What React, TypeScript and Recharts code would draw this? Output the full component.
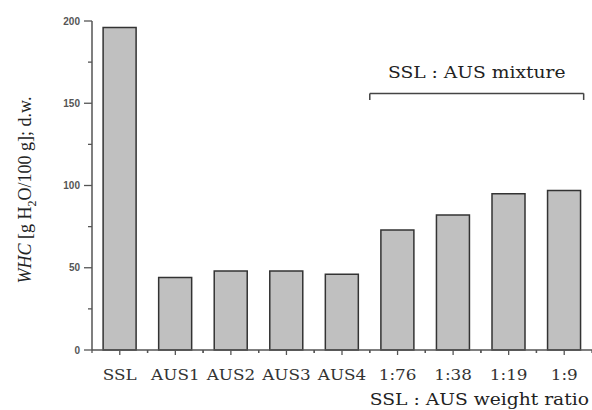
import React from 'react';
import { BarChart, Bar, XAxis, YAxis, ReferenceLine, Label } from 'recharts';

const categories = ['SSL', 'AUS1', 'AUS2', 'AUS3', 'AUS4', '1:76', '1:38', '1:19', '1:9'];
const whcValues = [196, 44, 48, 48, 46, 73, 82, 95, 97];
const yTicks = [0, 25, 50, 75, 100, 125, 150, 175, 200];
const yLabelTicks = [0, 50, 100, 150, 200];
const bracketStart = 5.0;
const bracketEnd = 8.85;
const bracketTop = 156;
const bracketFoot = 152;

const data = categories.map((c, i) => ({ name: c, whc: whcValues[i], pos: i + 0.5 }));

const W = 592;
const H = 410;
const LEFT = 92;
const BAND = (W - LEFT) / categories.length;
const AXIS_COLOR = '#555';
const SERIF = 'DejaVu Serif, serif';

const YTick = (props: any) => {
  const { x, y, payload } = props;
  const axisX = x + 8 + 3;
  const major = yLabelTicks.includes(payload.value);
  return (
    <g>
      <line x1={axisX - (major ? 8 : 4)} x2={axisX} y1={y} y2={y} stroke={AXIS_COLOR} strokeWidth={1.3} />
      {major && (
        <text x={axisX - 12} y={y} dy={3.5} textAnchor="end" fontFamily="Liberation Sans, Arial, sans-serif" fontWeight="bold" fontSize={10} fill="#555">
          {payload.value}
        </text>
      )}
    </g>
  );
};

const XTick = (props: any) => {
  const { x, y, payload } = props;
  const axisY = y - 4 - 2;
  return (
    <g>
      <line x1={x} x2={x} y1={axisY} y2={axisY + 5} stroke={AXIS_COLOR} strokeWidth={1.3} />
      <line x1={x - BAND / 2} x2={x - BAND / 2} y1={axisY} y2={axisY + 3} stroke={AXIS_COLOR} strokeWidth={1.3} />
      <line x1={x + BAND / 2} x2={x + BAND / 2} y1={axisY} y2={axisY + 3} stroke={AXIS_COLOR} strokeWidth={1.3} />
      <text transform={`translate(${x},${axisY + 30}) scale(1.2,1)`} textAnchor="middle" fontFamily={SERIF} fontSize={14} fill="#333">
        {payload.value}
      </text>
    </g>
  );
};

const XTitle = (props: any) => {
  const { viewBox } = props;
  return (
    <text transform={`translate(${viewBox.x + viewBox.width - 3},${viewBox.y + 55}) scale(1.1,1)`} textAnchor="end" fontFamily={SERIF} fontSize={17} fill="#222">
      SSL : AUS weight ratio
    </text>
  );
};

const BracketLabel = (props: any) => {
  const { viewBox } = props;
  const cx = viewBox.x + viewBox.width / 2;
  return (
    <text transform={`translate(${cx},${viewBox.y - 15}) scale(1.1,1)`} textAnchor="middle" fontFamily={SERIF} fontSize={17} fill="#222">
      SSL : AUS mixture
    </text>
  );
};

const YTitle = () => {
  const cx = 31;
  const cy = 190;
  return (
    <text transform={`translate(${cx},${cy}) rotate(-90)`} textAnchor="middle" fontFamily="Liberation Serif, serif" fontSize={18} fill="#222">
      <tspan fontStyle="italic">WHC</tspan>
      <tspan> [g H</tspan>
      <tspan fontSize={12} dy={5}>2</tspan>
      <tspan dy={-5}>O/100 g]; d.w.</tspan>
    </text>
  );
};

export default function App() {
  return (
    <div style={{ position: 'absolute', left: 0, top: 0, width: W, height: H, background: '#fff' }}>
      <BarChart width={W} height={H} data={data} margin={{ top: 21, right: 0, bottom: 0, left: 0 }} barCategoryGap="20%">
        <XAxis dataKey="name" height={60} tickLine={false} tickSize={4} tickMargin={2} axisLine={{ stroke: AXIS_COLOR, strokeWidth: 1.5 }} tick={<XTick />} interval={0}>
          <Label content={<XTitle />} />
        </XAxis>
        <XAxis xAxisId="pos" dataKey="pos" type="number" domain={[0, 9]} allowDataOverflow hide />
        <YAxis width={LEFT} domain={[0, 200]} ticks={yTicks} interval={0} tickLine={false} tickSize={8} tickMargin={3} axisLine={{ stroke: AXIS_COLOR, strokeWidth: 1.5 }} tick={<YTick />}>
          <Label content={<YTitle />} />
        </YAxis>
        <Bar dataKey="whc" fill="#c0c0c0" stroke="#333" strokeWidth={1.5} isAnimationActive={false} />
        <ReferenceLine xAxisId="pos" ifOverflow="visible" segment={[{ x: bracketStart, y: bracketTop }, { x: bracketEnd, y: bracketTop }]} stroke="#444" strokeWidth={1.5}>
          <Label content={<BracketLabel />} />
        </ReferenceLine>
        <ReferenceLine xAxisId="pos" ifOverflow="visible" segment={[{ x: bracketStart, y: bracketTop }, { x: bracketStart, y: bracketFoot }]} stroke="#444" strokeWidth={1.5} />
        <ReferenceLine xAxisId="pos" ifOverflow="visible" segment={[{ x: bracketEnd, y: bracketTop }, { x: bracketEnd, y: bracketFoot }]} stroke="#444" strokeWidth={1.5} />
      </BarChart>
    </div>
  );
}
